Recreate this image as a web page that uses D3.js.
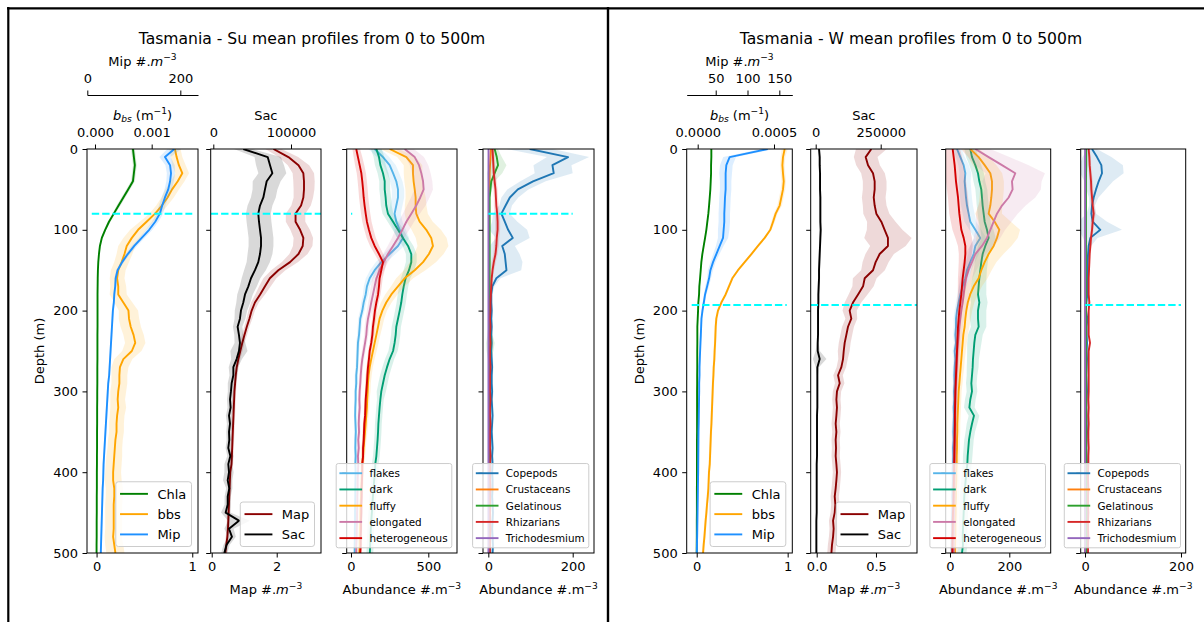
<!DOCTYPE html>
<html>
<head>
<meta charset="utf-8">
<script src="https://cdn.jsdelivr.net/npm/d3@7/dist/d3.min.js"></script>
<style>
  body { margin: 0; background: #fff; }
  svg { display: block; font-family: "DejaVu Sans", sans-serif; }
</style>
</head>
<body>
<svg id="chart" width="1204" height="622"></svg>
<script>
// depth grid (m)
const depth = [0,10,20,30,40,50,60,70,80,90,
  100,110,120,130,140,150,160,170,180,190,
  200,210,220,230,240,250,260,270,280,290,
  300,310,320,330,340,350,360,370,380,390,
  400,410,420,430,440,450,460,470,480,490,500];
const depthTicks = [0, 100, 200, 300, 400, 500];

// ---------- Su (summer) ----------
const suChla = [0.38,0.39,0.40,0.39,0.38,0.33,0.28,0.23,0.18,0.13,
  0.09,0.055,0.035,0.025,0.018,0.014,0.012,0.011,0.010,0.010,
  0.010,0.010,0.010,0.009,0.009,0.009,0.009,0.008,0.008,0.008,
  0.007,0.007,0.006,0.006,0.006,0.005,0.005,0.005,0.004,0.004,
  0.003,0.003,0.003,0.002,0.002,0.002,0.001,0.001,0.001,0.000,0.000];
const suChlaSd = [0.02,0.02,0.02,0.02,0.02,0.02,0.02,0.02,0.015,0.015,
  0.01,0.01,0.008,0.006,0.005,0.005,0.005,0.005,0.005,0.005,
  0.005,0.005,0.005,0.005,0.005,0.005,0.005,0.005,0.005,0.005,
  0.005,0.005,0.005,0.005,0.005,0.005,0.005,0.005,0.005,0.005,
  0.005,0.005,0.005,0.005,0.005,0.005,0.005,0.005,0.005,0.005,0.005];
const suBbs = [0.00141,0.00144,0.00148,0.00154,0.00146,0.00136,0.00128,0.00118,0.00106,0.00091,
  0.00076,0.00065,0.00056,0.00052,0.00047,0.00041,0.00039,0.00041,0.00041,0.00050,
  0.00059,0.00060,0.00063,0.00068,0.00071,0.00065,0.00050,0.00044,0.00043,0.00043,
  0.00041,0.00040,0.00041,0.00039,0.00038,0.00038,0.00036,0.00035,0.00034,0.00033,
  0.00032,0.00032,0.00034,0.00034,0.00033,0.00033,0.00033,0.00033,0.00032,0.00034,0.00036];
const suBbsSd = [0.00010,0.00010,0.00012,0.00012,0.00012,0.00012,0.00011,0.00010,0.00010,0.00012,
  0.00014,0.00015,0.00015,0.00014,0.00013,0.00013,0.00013,0.00014,0.00015,0.00016,
  0.00017,0.00018,0.00018,0.00018,0.00018,0.00017,0.00016,0.00015,0.00014,0.00014,
  0.00014,0.00013,0.00014,0.00013,0.00013,0.00013,0.00013,0.00013,0.00014,0.00014,
  0.00014,0.00015,0.00015,0.00015,0.00015,0.00015,0.00015,0.00015,0.00015,0.00016,0.00016];
const suMip = [187,167,178,180,178,174,167,161,156,146,
  133,117,101,87,75,65,61,60,58,57,
  55,54,53,52,51,50,49,48,47,45,
  44,43,42,41,40,39,38,37,36,35,
  34.5,34,33,32.5,32,31.5,31,30.5,30,29.5,29];
const suMipSd = [15,12,10,9,8,8,7,7,7,7,
  7,6,6,5,4,3,3,2,2,2,
  2,2,2,2,2,2,2,2,2,2,
  2,2,2,2,2,2,2,2,2,2,
  2,2,2,2,2,2,2,2,2,2,2];
const suMap = [1.90,2.36,2.67,2.82,2.84,2.84,2.82,2.75,2.58,2.58,
  2.72,2.82,2.80,2.67,2.41,2.05,1.79,1.64,1.49,1.33,
  1.23,1.16,1.08,1.01,0.94,0.88,0.82,0.77,0.74,0.72,
  0.70,0.69,0.68,0.67,0.66,0.65,0.64,0.63,0.62,0.61,
  0.57,0.56,0.55,0.54,0.53,0.52,0.51,0.50,0.48,0.45,0.42];
const suMapSd = [0.25,0.30,0.33,0.33,0.33,0.32,0.30,0.30,0.30,0.30,
  0.30,0.30,0.30,0.28,0.25,0.22,0.20,0.18,0.15,0.12,
  0.10,0.09,0.08,0.08,0.07,0.07,0.06,0.06,0.05,0.05,
  0.05,0.05,0.05,0.05,0.05,0.05,0.05,0.05,0.05,0.05,
  0.05,0.05,0.05,0.05,0.05,0.05,0.05,0.05,0.05,0.05,0.05];
const suSac = [38600,70000,73000,76000,68700,66500,64400,60100,57900,58800,
  60100,61400,61400,60100,57900,53600,48500,45100,40800,38600,
  35600,34300,31300,33000,34300,33000,30000,25800,25800,23600,
  22700,21500,22300,20200,21500,20200,20600,19300,21900,19300,
  20200,18500,20600,18500,18500,15900,33000,20200,24000,17000,14200];
const suSacSd = [12000,17000,18000,18000,18000,16000,16000,16000,16000,16000,
  16000,16000,16000,16000,15000,14000,12000,11000,10000,9000,
  8000,7000,6000,6000,7000,11000,7000,6000,5000,5000,
  4000,4000,4000,4000,4000,3500,3500,3500,4000,5000,
  6000,6000,4000,4000,4000,6000,14000,6000,5000,4000,4000];
const suFlakes = [153,207,250,272,293,304,304,293,282,293,
  315,336,304,250,196,153,121,103,95,82,
  73,60,56,52,45,43,41,39,34,34,
  30,30,28,27,29,31,29,28,30,28,
  30,29,28,28,27,26,26,25,25,24,24];
const suFlakesSd = [40,40,40,40,40,40,40,40,40,40,
  40,40,40,38,35,30,25,20,18,16,
  15,14,13,12,12,11,10,10,10,10,
  8,8,8,8,8,8,8,8,8,8,
  8,8,8,8,8,8,8,8,8,8,8];
const suDark = [164,181,190,207,218,218,224,228,239,272,
  304,336,369,390,390,375,353,341,332,325,
  315,304,293,289,282,272,250,233,218,207,
  196,190,185,181,177,175,172,168,164,157,
  155,150,146,142,138,135,131,128,126,124,122];
const suDarkSd = [35,35,35,35,35,35,35,35,35,35,
  35,35,35,35,35,35,30,30,30,30,
  30,30,30,30,30,30,30,30,30,30,
  30,22,22,22,22,22,22,22,22,22,
  22,22,22,22,22,22,22,22,22,22,22];
const suFluffy = [250,358,401,401,405,412,418,418,422,444,
  487,519,530,504,466,412,347,304,261,228,
  203,185,175,164,153,142,131,121,114,110,
  108,105,103,99,95,91,86,82,78,73,
  71,69,67,65,62,60,60,58,56,56,54];
const suFluffySd = [60,60,60,60,60,60,65,70,75,85,
  95,100,100,95,85,70,55,45,40,35,
  30,30,28,26,25,24,22,20,20,18,
  18,16,16,15,15,15,14,14,14,13,
  13,13,12,12,12,12,12,12,12,12,12];
const suElong = [347,412,440,455,466,470,448,422,390,358,
  332,304,272,239,211,185,164,153,142,131,
  121,110,103,99,91,82,73,67,63,60,
  56,54,56,52,50,52,47,50,45,47,
  45,43,43,41,41,39,39,37,37,34,34];
const suElongSd = [60,60,60,60,60,60,60,60,55,50,
  45,40,35,32,30,28,26,24,22,20,
  18,16,15,14,13,12,12,11,11,10,
  10,10,10,10,10,10,10,10,10,10,
  10,10,10,10,10,10,10,10,10,10,10];
const suHet = [34,45,56,67,73,78,82,88,95,103,
  116,131,153,181,207,196,185,181,175,164,
  155,149,142,138,131,121,116,110,106,103,
  99,95,93,91,86,84,82,78,78,73,
  73,71,69,69,67,67,65,65,63,63,60];
const suHetSd = [25,28,30,30,30,30,30,30,30,30,
  30,30,30,28,25,22,20,18,16,15,
  14,13,12,12,11,11,10,10,10,10,
  9,9,9,9,9,9,9,9,9,9,
  9,9,9,9,9,9,9,9,9,9,9];
const suCope = [98,189,152,155,106,70,51,41,31,39,
  47,58,33,39,41,43,19,9.5,7,7,
  8,7,8,7,8,7,8,9,8,8,
  9,8,9,10,9,8,9,10,9,10,
  9,10,10,9,10,11,10,9,10,11,10];
const suCopeSd = [55,50,45,45,30,25,20,15,20,30,
  45,40,30,35,40,35,10,5,3,3,
  3,3,3,3,3,3,3,3,3,3,
  3,3,3,3,3,3,3,3,3,3,
  3,3,3,3,3,3,3,3,3,3,3];
const suCrust = [6,5,4,3,3,2.5,2,2,2,2,
  2,2,2,2,2,2,2,2,2,2,
  1.5,1.5,1.5,1.5,1.5,1.5,1.5,1.5,1.5,1.5,
  1.5,1.5,1.5,1.5,1.5,1.5,1.5,1.5,1.5,1.5,
  1.5,1.5,1.5,1.5,1.5,1.5,1.5,1.5,1.5,1.5,1.5];
const suCrustSd = [3,3,2,2,1.5,1,1,1,1,1,
  1,1,1,1,1,1,1,1,1,1,
  0.8,0.8,0.8,0.8,0.8,0.8,0.8,0.8,0.8,0.8,
  0.8,0.8,0.8,0.8,0.8,0.8,0.8,0.8,0.8,0.8,
  0.8,0.8,0.8,0.8,0.8,0.8,0.8,0.8,0.8,0.8,0.8];
const suGel = [15,20,23,15,7,5,3,3,3,3,
  3,3,3,3,3,3,3,3,3,3,
  3,3,3,4,5,4,3,3,3,3,
  2.5,2.5,2.5,2.5,2.5,2.5,2.5,2.5,2.5,2.5,
  2.5,2.5,2.5,2.5,2.5,2.5,2.5,2.5,2.5,2.5,2.5];
const suGelSd = [8,12,20,18,8,4,2,2,2,2,
  2,2,2,2,2,2,2,2,2,2,
  2,2,3,6,10,8,4,2,2,2,
  2,2,2,2,2,2,2,2,2,2,
  2,2,2,2,2,2,2,2,2,2,2];
const suRhiz = [10,11,12,13,15,17,18,19,21,22,
  22,20,19,17,13,10,8,7,6,5,
  5,4,5,4,5,4,4,5,4,4,
  4,5,4,4,5,4,4,4,5,4,
  4,4,5,4,4,4,4,5,4,4,4];
const suRhizSd = [4,4,4,5,5,5,5,6,6,6,
  6,6,6,5,5,4,3,3,2,2,
  2,2,2,2,2,2,2,2,2,2,
  2,2,2,2,2,2,2,2,2,2,
  2,2,2,2,2,2,2,2,2,2,2];
const suTricho = [0.5,0.5,0.4,0.4,0.3,0.3,0.3,0.3,0.3,0.3,
  0.3,0.3,0.3,0.3,0.3,0.3,0.3,0.3,0.3,0.3,
  0.3,0.3,0.3,0.3,0.3,0.3,0.3,0.3,0.3,0.3,
  0.3,0.3,0.3,0.3,0.3,0.3,0.3,0.3,0.3,0.3,
  0.3,0.3,0.3,0.3,0.3,0.3,0.3,0.3,0.3,0.3,0.3];
const suTrichoSd = [0.3,0.3,0.3,0.3,0.3,0.3,0.3,0.3,0.3,0.3,
  0.3,0.3,0.3,0.3,0.3,0.3,0.3,0.3,0.3,0.3,
  0.3,0.3,0.3,0.3,0.3,0.3,0.3,0.3,0.3,0.3,
  0.3,0.3,0.3,0.3,0.3,0.3,0.3,0.3,0.3,0.3,
  0.3,0.3,0.3,0.3,0.3,0.3,0.3,0.3,0.3,0.3,0.3];

// ---------- W (winter) ----------
const wChla = [0.161,0.161,0.158,0.158,0.154,0.150,0.143,0.136,0.128,0.117,
  0.106,0.092,0.077,0.062,0.051,0.044,0.037,0.029,0.026,0.018,
  0.015,0.011,0.007,0.007,0.007,0.006,0.006,0.006,0.005,0.005,
  0.004,0.004,0.004,0.004,0.004,0.004,0.003,0.003,0.003,0.003,
  0.003,0.003,0.002,0.002,0.002,0.002,0.001,0.001,0.001,0.000,0.000];
const wChlaSd = [0.006,0.006,0.006,0.006,0.006,0.006,0.006,0.006,0.006,0.006,
  0.006,0.006,0.006,0.006,0.006,0.006,0.006,0.006,0.006,0.006,
  0.004,0.004,0.004,0.004,0.004,0.004,0.004,0.004,0.004,0.004,
  0.004,0.004,0.004,0.004,0.004,0.004,0.004,0.004,0.004,0.004,
  0.004,0.004,0.004,0.004,0.004,0.004,0.004,0.004,0.004,0.004,0.004];
const wBbs = [0.000570,0.000559,0.000555,0.000559,0.000564,0.000559,0.000548,0.000537,0.000511,0.000494,
  0.000476,0.000439,0.000395,0.000352,0.000308,0.000264,0.000227,0.000205,0.000183,0.000155,
  0.000133,0.000122,0.000118,0.000116,0.000114,0.000111,0.000109,0.000105,0.000103,0.000100,
  0.000098,0.000096,0.000094,0.000092,0.000090,0.000087,0.000085,0.000083,0.000081,0.000079,
  0.000074,0.000072,0.000070,0.000066,0.000061,0.000057,0.000052,0.000048,0.000044,0.000039,0.000035];
const wBbsSd = [0.000020,0.000015,0.000015,0.000015,0.000015,0.000015,0.000015,0.000015,0.000012,0.000012,
  0.000008,0.000008,0.000008,0.000008,0.000008,0.000008,0.000008,0.000008,0.000008,0.000008,
  0.000008,0.000008,0.000008,0.000008,0.000008,0.000008,0.000008,0.000008,0.000008,0.000008,
  0.000008,0.000008,0.000008,0.000008,0.000008,0.000008,0.000008,0.000008,0.000008,0.000008,
  0.000008,0.000008,0.000008,0.000008,0.000008,0.000008,0.000008,0.000008,0.000008,0.000008,0.000008];
const wMip = [131.8,71.9,66.7,65.6,65.6,65.6,64.6,64.1,63.5,63.5,
  62.5,61.5,56.3,51.0,45.8,41.7,39.6,36.5,33.3,31.3,
  29.2,27.6,27.1,26.6,26.0,25.5,25.0,24.5,24.5,24.0,
  24.0,23.8,23.6,23.4,23.2,22.9,22.8,22.7,22.6,22.5,
  22.4,22.2,22.0,21.8,21.6,21.4,21.2,21.0,20.8,20.5,20.3];
const wMipSd = [10,10,10,10,9,9,9,9,9,9,
  9,8,6,5,4,4,3,3,2,2,
  1.5,1.5,1.5,1.5,1.5,1.5,1.5,1.5,1.5,1.5,
  1.5,1.5,1.5,1.5,1.5,1.5,1.5,1.5,1.5,1.5,
  1.5,1.5,1.5,1.5,1.5,1.5,1.5,1.5,1.5,1.5,1.5];
const wMap = [0.461,0.413,0.433,0.475,0.489,0.489,0.481,0.489,0.503,0.545,
  0.573,0.601,0.601,0.531,0.497,0.475,0.405,0.391,0.349,0.306,
  0.278,0.292,0.264,0.250,0.236,0.228,0.222,0.208,0.180,0.194,
  0.171,0.166,0.171,0.166,0.160,0.166,0.160,0.163,0.160,0.166,
  0.171,0.166,0.160,0.152,0.157,0.152,0.138,0.143,0.138,0.129,0.124];
const wMapSd = [0.13,0.10,0.10,0.10,0.10,0.10,0.10,0.10,0.11,0.12,
  0.15,0.20,0.15,0.12,0.11,0.10,0.10,0.09,0.08,0.07,
  0.06,0.05,0.05,0.05,0.05,0.05,0.04,0.04,0.04,0.04,
  0.035,0.035,0.035,0.035,0.035,0.035,0.035,0.035,0.035,0.035,
  0.035,0.035,0.035,0.035,0.035,0.035,0.035,0.035,0.035,0.035,0.035];
const wSac = [12800,15400,15400,16700,16700,16700,17900,17900,17900,17900,
  19200,17900,16700,15400,14100,12800,12800,11500,10300,10300,
  9000,9000,9000,9000,7700,7700,15400,6400,6400,6400,
  6400,6400,6400,5100,5100,5100,5100,5100,5100,3800,
  3800,3800,3800,3800,3800,3800,2600,2600,2600,2600,2600];
const wSacSd = [4000,4000,4000,4000,4000,4000,4000,4000,4000,4000,
  4000,4000,4000,4000,4000,4000,4000,4000,4000,4000,
  4000,4000,4000,4000,4000,8000,26000,6000,3000,3000,
  3000,3000,3000,3000,3000,3000,3000,3000,3000,3000,
  3000,3000,3000,3000,3000,3000,3000,3000,3000,3000,3000];
const wFlakes = [23.6,34.8,46.1,51.7,49.4,51.7,53.9,57.3,62.9,68.5,
  85.4,102.2,85.4,79.8,68.5,57.3,51.7,42.7,34.8,29.2,
  23.6,20.2,20.2,18.0,20.2,15.7,18.0,15.7,14.6,15.7,
  13.5,14.6,12.4,13.5,12.4,11.2,12.4,10.1,11.2,10.1,
  9.0,10.1,9.0,7.9,9.0,7.9,6.7,7.9,6.7,5.6,6.7];
const wFlakesSd = [15,15,18,20,20,20,20,20,20,20,
  20,20,18,18,16,15,14,12,10,9,
  8,8,8,7,7,7,7,6,6,6,
  6,6,6,6,6,6,6,6,6,6,
  6,6,6,6,6,6,6,6,6,6,6];
const wDark = [68.5,74.2,85.4,94.4,98.9,105.6,107.9,110.1,113.5,116.9,
  124.7,130.3,119.1,110.1,105.6,102.2,98.9,96.6,94.4,98.9,
  94.4,94.4,96.6,85.4,82.0,79.8,77.5,76.4,74.2,71.9,
  74.2,68.5,65.2,80.9,74.2,68.5,64.0,61.8,59.6,58.4,
  55.1,52.8,50.6,48.3,47.2,46.1,44.9,43.8,42.7,43.8,40.4];
const wDarkSd = [20,20,20,20,20,20,20,20,20,20,
  22,24,24,22,22,22,24,26,28,28,
  28,28,26,25,24,22,20,20,18,18,
  18,18,18,18,18,16,16,16,16,15,
  15,15,15,15,15,15,15,15,15,15,15];
const wFluffy = [68.5,96.6,116.9,136.0,141.6,141.6,139.3,136.0,130.3,150.6,
  166.3,158.4,147.2,130.3,116.9,105.6,96.6,80,68,60,
  55,51.7,49.4,44.9,42.7,40.4,38.2,36.0,33.7,31.5,
  29.2,28.1,27.0,25.8,24.7,24.7,23.6,23.6,22.5,22.5,
  21.3,21.3,20.2,20.2,19.1,19.1,18.0,18.0,18.0,16.9,16.9];
const wFluffySd = [30,35,40,40,40,40,40,40,45,55,
  70,70,60,50,40,35,30,28,25,22,
  20,18,16,15,14,13,12,12,11,11,
  10,10,10,10,10,10,10,10,10,10,
  10,10,10,10,10,10,10,10,10,10,10];
const wElong = [85.4,130.3,175.3,220.2,209,211.2,197.8,175.3,158.4,147.2,
  136,124.7,107.9,85.4,74.2,62.9,53.9,49.4,46.1,42.7,
  38.2,34.8,31.5,29.2,27.0,24.7,23.6,22.5,21.3,20.2,
  19.1,18.5,18.0,17.5,17.0,16.8,16.5,16.0,15.7,15.5,
  15.2,15.0,14.8,14.5,14.2,14.0,13.7,13.4,13.0,12.7,12.4];
const wElongSd = [50,70,90,100,100,95,90,80,70,60,
  50,45,40,35,30,26,22,20,18,16,
  14,13,12,12,11,11,10,10,10,10,
  9,9,9,9,9,9,9,9,9,9,
  9,9,9,9,9,9,9,9,9,9,9];
const wHet = [9.0,12.4,15.7,18.0,20.2,23.6,27.0,29.2,31.5,34.8,
  38.2,46.1,51.7,51.7,49.4,46.1,42.7,40.4,38.2,34.8,
  31.5,29.2,27.0,25.8,24.7,23.6,22.5,21.3,20.2,19.1,
  18.0,17.5,17.0,16.5,16.5,16.0,15.5,15.0,14.5,14.0,
  13.5,13.0,12.5,12.0,11.5,10.1,9.5,9.0,8.5,8.0,7.9];
const wHetSd = [25,28,30,32,34,34,34,34,34,32,
  30,28,25,22,20,18,16,14,12,11,
  10,9,9,8,8,8,7,7,7,7,
  6,6,6,6,6,6,6,6,6,6,
  6,6,6,6,6,6,6,6,6,6,6];
const wCope = [14.6,25,34,35.4,28.5,22.9,18.1,14.6,13.2,16.0,
  31.9,11.1,7.6,6.3,5.6,5.6,4.9,4.2,4.9,2.8,
  2.1,4.9,3.5,3.5,4.2,3.5,4.2,3.5,2.8,3.5,
  4.2,3.5,2.8,3.5,3.5,4.2,3.5,2.8,3.5,4.2,
  3.5,4.2,3.5,3.5,4.2,4.9,4.2,3.5,4.2,4.9,4.2];
const wCopeSd = [10,30,45,45,30,20,10,6,10,30,
  45,15,5,3,3,2,2,2,2,2,
  2,2,2,2,2,2,2,2,2,2,
  2,2,2,2,2,2,2,2,2,2,
  2,2,2,2,2,2,2,2,2,2,2];
const wCrust = [1.5,1.2,1.0,1.0,0.9,0.8,0.8,0.8,0.8,0.8,
  0.7,0.7,0.7,0.7,0.7,0.7,0.7,0.7,0.7,0.7,
  0.7,0.7,0.7,0.7,0.7,0.7,0.7,0.7,0.7,0.7,
  0.7,0.7,0.7,0.7,0.7,0.7,0.7,0.7,0.7,0.7,
  0.7,0.7,0.7,0.7,0.7,0.7,0.7,0.7,0.7,0.7,0.7];
const wCrustSd = [1,1,1,1,0.8,0.8,0.5,0.5,0.5,0.5,
  0.5,0.5,0.5,0.5,0.5,0.5,0.5,0.5,0.5,0.5,
  0.5,0.5,0.5,0.5,0.5,0.5,0.5,0.5,0.5,0.5,
  0.5,0.5,0.5,0.5,0.5,0.5,0.5,0.5,0.5,0.5,
  0.5,0.5,0.5,0.5,0.5,0.5,0.5,0.5,0.5,0.5,0.5];
const wGel = [2.5,2.5,2.5,2.2,2,2,2,2,2,2,
  2,2,2,2,2,2,2,2,2,2,
  2,2,2,2,2,2,2,2,2,2,
  2,2,2,2,2,2,2,2,2,2,
  2,2,2,2,2,2,2,2,2,2,2];
const wGelSd = [1,1,1,1,1,1,1,1,1,1,
  1,1,1,1,1,1,1,1,1,1,
  1,1,1,1,1,1,1,1,1,1,
  1,1,1,1,1,1,1,1,1,1,
  1,1,1,1,1,1,1,1,1,1,1];
const wRhiz = [7.6,9.0,9.7,11.1,12.5,13.2,14.6,16.0,18.1,16.0,
  14.6,12.5,11.1,9.7,9.0,8.3,7.6,7.6,7.6,9.0,
  7.6,7.6,7.6,7.6,10.4,7.6,7.6,7.6,7.6,7.6,
  7.6,7.0,7.6,7.0,7.6,7.0,7.0,7.6,7.0,7.0,
  6.3,6.3,7.0,6.3,6.3,7.0,6.3,6.3,7.0,6.3,6.3];
const wRhizSd = [3,3,3,3,4,4,4,4,4,4,
  3,3,3,2,2,2,2,2,2,2,
  1.5,1.5,1.5,1.5,1.5,1.5,1.5,1.5,1.5,1.5,
  1.5,1.5,1.5,1.5,1.5,1.5,1.5,1.5,1.5,1.5,
  1.5,1.5,1.5,1.5,1.5,1.5,1.5,1.5,1.5,1.5,1.5];
const wTricho = [0.2,0.2,0.2,0.2,0.2,0.2,0.2,0.2,0.2,0.2,
  0.2,0.2,0.2,0.2,0.2,0.2,0.2,0.2,0.2,0.2,
  0.2,0.2,0.2,0.2,0.2,0.2,0.2,0.2,0.2,0.2,
  0.2,0.2,0.2,0.2,0.2,0.2,0.2,0.2,0.2,0.2,
  0.2,0.2,0.2,0.2,0.2,0.2,0.2,0.2,0.2,0.2,0.2];
const wTrichoSd = wTricho;

// threshold depths (cyan dashed)
const suCutDepth = 80;
const wCutDepth = 193;

// ---------- drawing ----------
const svg = d3.select('#chart');
const FS = 13;
const y = d3.scaleLinear().domain([0, 500]).range([149, 553]);

const col = {
  chla: '#008000', bbs: '#ffa500', mip: '#1e90ff', map: '#8b0000', sac: '#000000',
  flakes: '#56b4e9', dark: '#009e73', fluffy: '#ffa500', elong: '#cc79a7', het: '#d40000',
  cope: '#1f77b4', crust: '#ff7f0e', gel: '#2ca02c', rhiz: '#d62728', tricho: '#9467bd'
};

const bbsLabel = [{t: 'b', i: true}, {t: 'bs', i: true, sub: true}, {t: ' (m'}, {t: '\u22121', sup: true}, {t: ')'}];
const mipLabel = [{t: 'Mip #.'}, {t: 'm', i: true}, {t: '\u22123', sup: true}];
const mapLabel = [{t: 'Map #.'}, {t: 'm', i: true}, {t: '\u22123', sup: true}];
const abLabel = [{t: 'Abundance #.m'}, {t: '\u22123', sup: true}];

function rich(sel, parts, fs) {
  let off = 0;
  parts.forEach(p => {
    const target = p.sup ? -0.42 * fs : p.sub ? 0.2 * fs : 0;
    const t = sel.append('tspan').text(p.t).attr('dy', target - off);
    off = target;
    if (p.i) t.attr('font-style', 'italic');
    if (p.sup || p.sub) t.attr('font-size', fs * 0.7);
  });
}

function particlesSeries(m) {
  return [
    {name: 'flakes', axis: 'bottom', mean: m[0], sd: m[1], color: col.flakes},
    {name: 'dark', axis: 'bottom', mean: m[2], sd: m[3], color: col.dark},
    {name: 'fluffy', axis: 'bottom', mean: m[4], sd: m[5], color: col.fluffy},
    {name: 'elongated', axis: 'bottom', mean: m[6], sd: m[7], color: col.elong},
    {name: 'heterogeneous', axis: 'bottom', mean: m[8], sd: m[9], color: col.het}
  ];
}
function taxaSeries(m) {
  return [
    {name: 'Copepods', axis: 'bottom', mean: m[0], sd: m[1], color: col.cope},
    {name: 'Crustaceans', axis: 'bottom', mean: m[2], sd: m[3], color: col.crust},
    {name: 'Gelatinous', axis: 'bottom', mean: m[4], sd: m[5], color: col.gel},
    {name: 'Rhizarians', axis: 'bottom', mean: m[6], sd: m[7], color: col.rhiz},
    {name: 'Trichodesmium', axis: 'bottom', mean: m[8], sd: m[9], color: col.tricho}
  ];
}

const sides = [
  {
    title: 'Tasmania - Su mean profiles from 0 to 500m', titleX: 312, depthLabelX: 44, cutDepth: suCutDepth,
    panels: [
      { x0: 87, x1: 198, legendFs: FS, cut: [-0.05, 1.0],
        axes: {
          bottom: {domain: [-0.1, 1.06], ticks: [0, 1], fmt: d3.format('d')},
          top: {domain: [-0.000141, 0.001817], ticks: [0, 0.001], fmt: d3.format('.3f'), label: bbsLabel},
          offset: {domain: [-0.65, 238], ticks: [0, 200], fmt: d3.format('d'), label: mipLabel, y: 95}
        },
        series: [
          {name: 'Chla', axis: 'bottom', mean: suChla, sd: suChlaSd, color: col.chla},
          {name: 'bbs', axis: 'top', mean: suBbs, sd: suBbsSd, color: col.bbs},
          {name: 'Mip', axis: 'offset', mean: suMip, sd: suMipSd, color: col.mip}
        ] },
      { x0: 210.7, x1: 321, legendFs: FS, cut: [-0.031, 3.363],
        axes: {
          bottom: {domain: [-0.031, 3.363], ticks: [0, 2], fmt: d3.format('d'), label: mapLabel},
          top: {domain: [-3350, 138600], ticks: [0, 100000], fmt: d3.format('d'), label: [{t: 'Sac'}]}
        },
        series: [
          {name: 'Map', axis: 'bottom', mean: suMap, sd: suMapSd, color: col.map},
          {name: 'Sac', axis: 'top', mean: suSac, sd: suSacSd, color: col.sac}
        ] },
      { x0: 346.7, x1: 457, legendFs: 10.4, cut: [0, 8],
        axes: { bottom: {domain: [-27.8, 685.6], ticks: [0, 500], fmt: d3.format('d'), label: abLabel} },
        series: particlesSeries([suFlakes, suFlakesSd, suDark, suDarkSd, suFluffy, suFluffySd, suElong, suElongSd, suHet, suHetSd]) },
      { x0: 483, x1: 594, legendFs: 10.4, cut: [0, 200],
        axes: { bottom: {domain: [-12.6, 250.5], ticks: [0, 200], fmt: d3.format('d'), label: abLabel} },
        series: taxaSeries([suCope, suCopeSd, suCrust, suCrustSd, suGel, suGelSd, suRhiz, suRhizSd, suTricho, suTrichoSd]) }
    ]
  },
  {
    title: 'Tasmania - W mean profiles from 0 to 500m', titleX: 911, depthLabelX: 643.7, cutDepth: wCutDepth,
    panels: [
      { x0: 686.7, x1: 792.3, legendFs: FS, cut: [-0.055, 0.99],
        axes: {
          bottom: {domain: [-0.11, 1.051], ticks: [0, 1], fmt: d3.format('d')},
          top: {domain: [-0.0000721, 0.00062], ticks: [0, 0.0005], fmt: d3.format('.4f'), label: bbsLabel},
          offset: {domain: [4.4, 170.4], ticks: [50, 100, 150], fmt: d3.format('d'), label: mipLabel, y: 95}
        },
        series: [
          {name: 'Chla', axis: 'bottom', mean: wChla, sd: wChlaSd, color: col.chla},
          {name: 'bbs', axis: 'top', mean: wBbs, sd: wBbsSd, color: col.bbs},
          {name: 'Mip', axis: 'offset', mean: wMip, sd: wMipSd, color: col.mip}
        ] },
      { x0: 810.7, x1: 917, legendFs: FS, cut: [-0.0506, 0.846],
        axes: {
          bottom: {domain: [-0.0506, 0.846], ticks: [0, 0.5], fmt: d3.format('.1f'), label: mapLabel},
          top: {domain: [-19200, 389600], ticks: [0, 250000], fmt: d3.format('d'), label: [{t: 'Sac'}]}
        },
        series: [
          {name: 'Map', axis: 'bottom', mean: wMap, sd: wMapSd, color: col.map},
          {name: 'Sac', axis: 'top', mean: wSac, sd: wSacSd, color: col.sac}
        ] },
      { x0: 945.7, x1: 1050.7, legendFs: 10.4, cut: null,
        axes: { bottom: {domain: [-14.5, 339.6], ticks: [0, 200], fmt: d3.format('d'), label: abLabel} },
        series: particlesSeries([wFlakes, wFlakesSd, wDark, wDarkSd, wFluffy, wFluffySd, wElong, wElongSd, wHet, wHetSd]) },
      { x0: 1080.7, x1: 1185.7, legendFs: 10.4, cut: [0, 200],
        axes: { bottom: {domain: [-9, 209.8], ticks: [0, 200], fmt: d3.format('d'), label: abLabel} },
        series: taxaSeries([wCope, wCopeSd, wCrust, wCrustSd, wGel, wGelSd, wRhiz, wRhizSd, wTricho, wTrichoSd]) }
    ]
  }
];

// figure frames
svg.append('line').attr('x1', 7).attr('x2', 1204).attr('y1', 8.3).attr('y2', 8.3).attr('stroke', '#000').attr('stroke-width', 2.2);
svg.append('line').attr('x1', 8.3).attr('x2', 8.3).attr('y1', 7).attr('y2', 622).attr('stroke', '#000').attr('stroke-width', 2.2);
svg.append('line').attr('x1', 608).attr('x2', 608).attr('y1', 7).attr('y2', 622).attr('stroke', '#000').attr('stroke-width', 2.4);

let clipCount = 0;
const idx = depth.map((d, i) => i);

function styleAxis(g) {
  g.attr('font-size', FS).attr('font-family', '"DejaVu Sans", sans-serif').attr('color', '#000');
  g.selectAll('.tick line').attr('stroke-width', 1);
}

function drawLegend(p, fs) {
  const g = svg.append('g');
  const n = p.series.length;
  const right = p.x1 - 0.5 * fs, bottom = 553 - 0.5 * fs;
  const h = fs * (0.3 + 1.56 * n);
  const top = bottom - h;
  const box = g.append('rect');
  let maxW = 0;
  const lastC = bottom - 0.93 * fs;
  const texts = p.series.map((s, i) => {
    const cy = lastC - (n - 1 - i) * 1.56 * fs;
    const t = g.append('text').attr('y', cy + 0.38 * fs).attr('font-size', fs).text(s.name);
    maxW = Math.max(maxW, t.node().getComputedTextLength());
    return {t, cy, s};
  });
  const w = 0.4 * fs * 2 + 2 * fs + 0.8 * fs + maxW;
  const left = right - w;
  box.attr('x', left).attr('y', top).attr('width', w).attr('height', h)
    .attr('rx', 0.2 * fs).attr('fill', '#fff').attr('fill-opacity', 0.8)
    .attr('stroke', '#cccccc').attr('stroke-width', 1);
  texts.forEach(({t, cy, s}) => {
    t.attr('x', left + 3.2 * fs);
    g.append('line').attr('x1', left + 0.4 * fs).attr('x2', left + 2.4 * fs)
      .attr('y1', cy).attr('y2', cy).attr('stroke', s.color).attr('stroke-width', 1.9)
      .attr('stroke-linecap', 'square');
  });
}

function drawPanel(p, k, side) {
  const sc = {};
  Object.keys(p.axes).forEach(key => {
    sc[key] = d3.scaleLinear().domain(p.axes[key].domain).range([p.x0, p.x1]);
  });
  const id = 'clip' + (clipCount++);
  svg.append('clipPath').attr('id', id).append('rect')
    .attr('x', p.x0).attr('y', 149).attr('width', p.x1 - p.x0).attr('height', 404);
  const plot = svg.append('g').attr('clip-path', `url(#${id})`);

  p.series.forEach(s => {
    const xs = sc[s.axis];
    const area = d3.area()
      .x0(i => xs(s.mean[i] - s.sd[i]))
      .x1(i => xs(s.mean[i] + s.sd[i]))
      .y(i => y(depth[i]));
    plot.append('path').attr('d', area(idx)).attr('fill', s.color).attr('fill-opacity', 0.15);
    const line = d3.line().x(i => xs(s.mean[i])).y(i => y(depth[i]));
    plot.append('path').attr('d', line(idx)).attr('fill', 'none')
      .attr('stroke', s.color).attr('stroke-width', 1.9).attr('stroke-linejoin', 'round');
  });

  if (p.cut) {
    plot.append('line')
      .attr('x1', sc.bottom(p.cut[0])).attr('x2', sc.bottom(p.cut[1]))
      .attr('y1', y(side.cutDepth)).attr('y2', y(side.cutDepth))
      .attr('stroke', '#00ffff').attr('stroke-width', 2).attr('stroke-dasharray', '7.4,3');
  }

  svg.append('rect').attr('x', p.x0).attr('y', 149).attr('width', p.x1 - p.x0).attr('height', 404)
    .attr('fill', 'none').attr('stroke', '#000').attr('stroke-width', 1);

  // depth axis
  const ga = svg.append('g').attr('transform', `translate(${p.x0},0)`)
    .call(d3.axisLeft(y).tickValues(depthTicks).tickSize(4.5).tickPadding(4.5)
      .tickFormat(k === 0 ? d3.format('d') : () => ''));
  ga.select('.domain').remove();
  styleAxis(ga);

  // bottom axis
  const b = p.axes.bottom;
  const gb = svg.append('g').attr('transform', 'translate(0,553)')
    .call(d3.axisBottom(sc.bottom).tickValues(b.ticks).tickFormat(b.fmt).tickSize(4.5).tickPadding(4.5));
  gb.select('.domain').remove();
  styleAxis(gb);
  if (b.label) {
    const t = svg.append('text').attr('x', (p.x0 + p.x1) / 2).attr('y', 594)
      .attr('text-anchor', 'middle').attr('font-size', FS);
    rich(t, b.label, FS);
  }

  // top axis
  if (p.axes.top) {
    const a = p.axes.top;
    const gt = svg.append('g').attr('transform', 'translate(0,149)')
      .call(d3.axisTop(sc.top).tickValues(a.ticks).tickFormat(a.fmt).tickSize(4.5).tickPadding(7.5));
    gt.select('.domain').remove();
    styleAxis(gt);
    const t = svg.append('text').attr('x', (p.x0 + p.x1) / 2).attr('y', 119.5)
      .attr('text-anchor', 'middle').attr('font-size', FS);
    rich(t, a.label, FS);
  }

  // offset (Mip) axis
  if (p.axes.offset) {
    const a = p.axes.offset;
    const go = svg.append('g').attr('transform', `translate(0,${a.y})`)
      .call(d3.axisTop(sc.offset).tickValues(a.ticks).tickFormat(a.fmt)
        .tickSizeInner(4.5).tickSizeOuter(0).tickPadding(7.5));
    styleAxis(go);
    go.select('.domain').attr('stroke-width', 1);
    const t = svg.append('text').attr('x', (p.x0 + p.x1) / 2).attr('y', 65.5)
      .attr('text-anchor', 'middle').attr('font-size', FS);
    rich(t, a.label, FS);
  }

  drawLegend(p, p.legendFs);
}

sides.forEach(side => {
  svg.append('text').attr('x', side.titleX).attr('y', 43.5).attr('text-anchor', 'middle')
    .attr('font-size', 15.6).text(side.title);
  side.panels.forEach((p, k) => drawPanel(p, k, side));
  svg.append('text')
    .attr('transform', `translate(${side.depthLabelX},351) rotate(-90)`)
    .attr('text-anchor', 'middle').attr('font-size', FS).text('Depth (m)');
});
</script>
</body>
</html>
